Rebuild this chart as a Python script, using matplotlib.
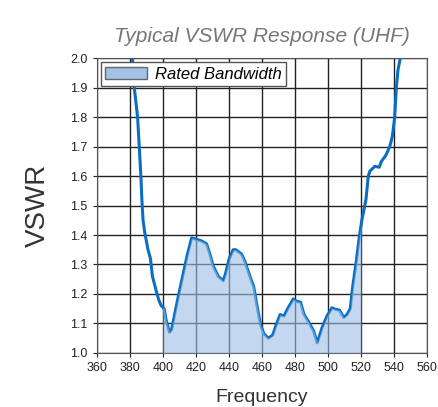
import numpy as np
import matplotlib
matplotlib.use("Agg")
import matplotlib.pyplot as plt
from matplotlib.patches import Patch

plt.rcParams["font.family"] = ["Liberation Sans", "DejaVu Sans"]

# VSWR curve (frequency in MHz)
freq = [381.6, 382.7, 384.7, 385.7, 386.7, 387.3, 388.0, 389.0, 391.0, 392.5,
        393.7, 396.0, 397.5, 399.0, 400.8, 402.0, 404.0, 405.3, 407.3, 409.3,
        412.0, 414.7, 417.4, 420.4, 423.4, 426.5, 428.5, 430.5, 433.5, 436.6,
        438.0, 440.2, 442.6, 444.2, 447.7, 449.7, 452.7, 455.0, 457.0, 459.2,
        461.2, 463.8, 466.5, 468.3, 471.0, 473.3, 475.9, 479.0, 481.0, 483.4,
        485.5, 488.0, 491.3, 493.5, 496.4, 499.4, 502.4, 504.4, 507.0, 509.5,
        511.5, 513.5, 515.0, 517.0, 519.0, 520.5, 523.0, 524.4, 525.4, 528.4,
        531.0, 532.4, 535.0, 537.4, 539.0, 540.4, 541.4, 542.4, 543.8]
vswr = [2.00, 1.90, 1.80, 1.70, 1.60, 1.52, 1.45, 1.41, 1.35, 1.32,
        1.26, 1.21, 1.18, 1.16, 1.15, 1.11, 1.07, 1.08, 1.135, 1.19,
        1.26, 1.33, 1.39, 1.385, 1.38, 1.37, 1.335, 1.295, 1.26, 1.245,
        1.27, 1.32, 1.35, 1.35, 1.335, 1.31, 1.26, 1.225, 1.16, 1.095,
        1.065, 1.05, 1.06, 1.09, 1.13, 1.125, 1.153, 1.183, 1.175, 1.172,
        1.13, 1.108, 1.074, 1.034, 1.085, 1.125, 1.153, 1.148, 1.145, 1.12,
        1.13, 1.15, 1.226, 1.305, 1.395, 1.45, 1.52, 1.60, 1.617, 1.633,
        1.63, 1.65, 1.67, 1.70, 1.735, 1.80, 1.90, 1.96, 2.00]

band_lo, band_hi = 400, 520

freq = np.array(freq)
vswr = np.array(vswr)

fig = plt.figure(figsize=(4.38, 4.07), dpi=100)
ax = fig.add_axes([0.221, 0.133, 0.754, 0.724])

ax.plot(freq, vswr, color="#0a6fc2", lw=2.2, zorder=3)

mask = (freq >= band_lo) & (freq <= band_hi)
fx = np.concatenate([[band_lo], freq[mask], [band_hi]])
fy = np.interp(fx, freq, vswr)
ax.fill_between(fx, 1.0, fy, color="#9cbfe6", alpha=0.6, lw=0, zorder=4)

ax.set_xlim(360, 560)
ax.set_ylim(1.0, 2.0)
ax.set_xticks(np.arange(360, 561, 20))
ax.set_yticks(np.arange(1.0, 2.01, 0.1))
ax.set_yticklabels([f"{v:.1f}" for v in np.arange(1.0, 2.01, 0.1)])
ax.grid(True, color="#222222", lw=1.0, zorder=1)
ax.set_axisbelow(True)
ax.tick_params(labelsize=9, length=3, colors="#222222")
for s in ax.spines.values():
    s.set_color("#555555")

ax.set_title("Typical VSWR Response (UHF)", fontsize=15, style="italic",
             color="#777777", pad=12)
ax.set_ylabel("VSWR", fontsize=20, color="#333333", labelpad=14)
ax.set_xlabel("Frequency", fontsize=14, color="#333333", labelpad=11)

leg = ax.legend(handles=[Patch(facecolor="#a3c2e6", edgecolor="#666666",
                               label="Rated Bandwidth")],
                loc="upper left", fontsize=12, fancybox=False,
                borderaxespad=0.25, handlelength=2.5, handletextpad=0.5,
                borderpad=0.25, framealpha=1)
leg.get_frame().set_edgecolor("#555555")
for t in leg.get_texts():
    t.set_style("italic")
leg.set_zorder(10)

fig.savefig("out.png", dpi=100)
